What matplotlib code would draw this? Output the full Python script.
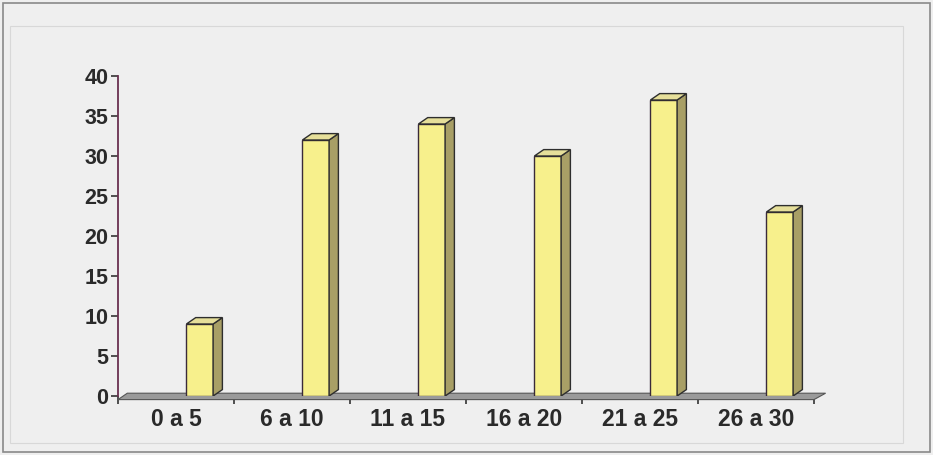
import numpy as np
import matplotlib
matplotlib.use("Agg")
import matplotlib.pyplot as plt
from matplotlib.patches import Polygon, Rectangle

categories = ["0 a 5", "6 a 10", "11 a 15", "16 a 20", "21 a 25", "26 a 30"]
values = [9, 32, 34, 30, 37, 23]
yticks = [0, 5, 10, 15, 20, 25, 30, 35, 40]

plt.rcParams['font.family'] = ['Liberation Sans', 'DejaVu Sans']

W, H = 933, 455
fig = plt.figure(figsize=(W / 100, H / 100), dpi=100)
fig.patch.set_facecolor('#efefef')

# outer border and faint inner frame
fig.add_artist(Rectangle((3 / W, 3 / H), 927 / W, 449 / H, transform=fig.transFigure,
                         fill=False, ec='#8a8a8a', lw=1.2))
fig.add_artist(Rectangle((10 / W, 12 / H), 893 / W, 417 / H, transform=fig.transFigure,
                         fill=False, ec='#d8d8d8', lw=0.8))

ax = fig.add_axes([118 / W, (H - 396) / H, (814 - 118) / W, 320 / H])
ax.set_facecolor('none')
ax.set_xlim(0, 6)
ax.set_ylim(0, 40)

bw = 0.23      # bar front width
off = 0.59     # bar left edge inside its category
dx, dy = 0.08, 0.8   # 3D depth

# floor
ax.add_patch(Polygon([(0, -0.45), (6, -0.45), (6 + 0.1, 0.35), (0 + dx, 0.35)],
                     closed=True, fc='#9a9a9a', ec='#555555', lw=0.8, clip_on=False, zorder=2))

x = np.arange(len(values)) + off
ax.bar(x, values, width=bw, align='edge', color='#f7f08c', edgecolor='#3a2a3a',
       lw=1.0, zorder=3)
for xi, v in zip(x, values):
    # right side
    ax.add_patch(Polygon([(xi + bw, 0), (xi + bw + dx, dy), (xi + bw + dx, v + dy), (xi + bw, v)],
                         closed=True, fc='#a89f66', ec='#2e2e2e', lw=1.0, zorder=3))
    # top
    ax.add_patch(Polygon([(xi, v), (xi + dx, v + dy), (xi + bw + dx, v + dy), (xi + bw, v)],
                         closed=True, fc='#e6df9a', ec='#2e2e2e', lw=1.0, zorder=3))

for s in ['top', 'right', 'bottom']:
    ax.spines[s].set_visible(False)
ax.spines['left'].set_color('#6a3050')
ax.spines['left'].set_linewidth(1.3)

ax.set_yticks(yticks)
ax.set_yticklabels([str(t) for t in yticks], fontsize=15.5, fontweight='bold', color='#2a2a2a')
ax.tick_params(axis='y', length=5, width=1.2, color='#333333', pad=2)

ax.set_xticks(np.arange(0, 7))
ax.set_xticklabels([])
ax.tick_params(axis='x', length=6, width=1.2, color='#333333', direction='out')
for i, c in enumerate(categories):
    ax.text(i + 0.5, -3.0, c, ha='center', va='center', fontsize=16.5, fontweight='bold',
            color='#2a2a2a')

fig.savefig("out.png", dpi=100, facecolor=fig.get_facecolor())
